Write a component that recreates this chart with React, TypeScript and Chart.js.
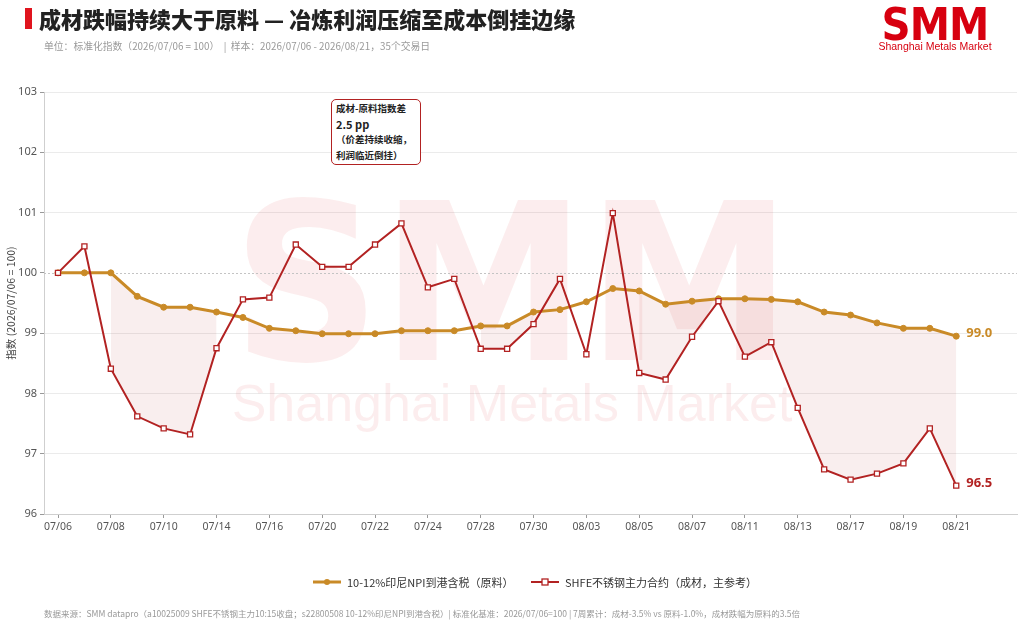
import React, { useEffect, useRef } from "react";
import { Chart, registerables } from "chart.js";

Chart.register(...registerables);

// ---------------- data ----------------
const dateLabels = [
  "07/06", "07/07", "07/08", "07/09", "07/10",
  "07/13", "07/14", "07/15", "07/16", "07/17",
  "07/20", "07/21", "07/22", "07/23", "07/24",
  "07/27", "07/28", "07/29", "07/30", "07/31",
  "08/03", "08/04", "08/05", "08/06", "08/07",
  "08/10", "08/11", "08/12", "08/13", "08/14",
  "08/17", "08/18", "08/19", "08/20", "08/21",
];

// 10-12% Indonesian NPI landed incl. tax (raw material), index
const rawMaterialIndex = [
  100, 100, 100, 99.61, 99.43,
  99.43, 99.35, 99.26, 99.08, 99.04,
  98.99, 98.99, 98.99, 99.04, 99.04,
  99.04, 99.12, 99.12, 99.35, 99.39,
  99.52, 99.74, 99.7, 99.48, 99.53,
  99.57, 99.57, 99.56, 99.52, 99.35,
  99.3, 99.17, 99.08, 99.08, 98.95,
];

// SHFE stainless steel main contract (finished product), index
const finishedIndex = [
  100, 100.44, 98.41, 97.62, 97.42,
  97.32, 98.75, 99.56, 99.59, 100.47,
  100.1, 100.1, 100.47, 100.82, 99.76,
  99.9, 98.74, 98.74, 99.15, 99.9,
  98.65, 100.99, 98.34, 98.23, 98.94,
  99.53, 98.61, 98.85, 97.76, 96.74,
  96.57, 96.67, 96.84, 97.42, 96.47,
];

const seriesNames = [
  "10-12%印尼NPI到港含税（原料）",
  "SHFE不锈钢主力合约（成材，主参考）",
];

const yMin = 96;
const yMax = 103;
const baseValue = 100;

const titleText = "成材跌幅持续大于原料 — 冶炼利润压缩至成本倒挂边缘";
const subtitleText =
  "单位：标准化指数（2026/07/06 = 100）  |  样本：2026/07/06 - 2026/08/21，35个交易日";
const yAxisTitle = "指数 (2026/07/06 = 100)";
const noteLines = ["成材-原料指数差", "2.5 pp", "（价差持续收缩，", "利润临近倒挂）"];
const footerText =
  "数据来源：SMM datapro（a10025009 SHFE不锈钢主力10:15收盘；s22800508 10-12%印尼NPI到港含税）| 标准化基准：2026/07/06=100 | 7周累计：成材-3.5% vs 原料-1.0%，成材跌幅为原料的3.5倍";

// ---------------- styles ----------------
const ORANGE = "#C98A27";
const RED = "#B22222";
const LOGO_RED = "#D7000F";
const FILL = "rgba(178,34,34,0.08)";
const FONT = '"Noto Sans", "Noto Sans CJK SC", sans-serif';
const CJK = '"Noto Sans CJK SC", "Noto Sans", sans-serif';

const watermarkPlugin = {
  id: "smmWatermark",
  beforeDatasetsDraw(chart: any) {
    const ctx = chart.ctx;
    const cx = chart.width / 2;
    ctx.save();
    ctx.fillStyle = "rgba(215,0,15,0.07)";
    ctx.font = 'bold 100px "DejaVu Sans", "Liberation Sans", sans-serif';
    const m = ctx.measureText("SMM");
    const w = m.width;
    const a = m.actualBoundingBoxAscent || 72;
    const targetW = 560;
    const targetH = 165;
    ctx.translate(cx - targetW / 2, 360);
    ctx.scale(targetW / w, targetH / a);
    ctx.textBaseline = "alphabetic";
    ctx.textAlign = "left";
    ctx.fillText("SMM", 0, 0);
    ctx.restore();

    ctx.save();
    ctx.fillStyle = "rgba(215,0,15,0.07)";
    ctx.font = '52px "Liberation Sans", Arial, sans-serif';
    ctx.textAlign = "center";
    ctx.textBaseline = "alphabetic";
    ctx.fillText("Shanghai Metals Market", cx, 421);
    ctx.restore();

    // dotted base line at 100
    const y = chart.scales.y.getPixelForValue(baseValue);
    const area = chart.chartArea;
    ctx.save();
    ctx.strokeStyle = "#c4c4c4";
    ctx.lineWidth = 1;
    ctx.setLineDash([2, 2]);
    ctx.beginPath();
    ctx.moveTo(area.left, Math.round(y) + 0.5);
    ctx.lineTo(area.right, Math.round(y) + 0.5);
    ctx.stroke();
    ctx.restore();
  },
};

const endLabelPlugin = {
  id: "endLabels",
  afterDatasetsDraw(chart: any) {
    const ctx = chart.ctx;
    const colors = [ORANGE, RED];
    [0, 1].forEach((di) => {
      const meta = chart.getDatasetMeta(di);
      const pts = meta.data;
      const last = pts[pts.length - 1];
      const values = chart.data.datasets[di].data;
      const v = values[values.length - 1].y;
      const txt = (Math.round(v * 10) / 10).toFixed(1);
      ctx.save();
      ctx.fillStyle = colors[di];
      ctx.font = `bold 13px ${FONT}`;
      ctx.textBaseline = "middle";
      ctx.textAlign = "left";
      ctx.fillText(txt, last.x + 10, last.y - (di === 0 ? 3 : 2));
      ctx.restore();
    });
  },
};

function ChartCanvas() {
  const ref = useRef<HTMLCanvasElement | null>(null);
  useEffect(() => {
    if (!ref.current) return;
    const mask = finishedIndex.map((v, i) => v < rawMaterialIndex[i]);
    const chart = new Chart(ref.current, {
      type: "line",
      data: {
        datasets: [
          {
            label: seriesNames[0],
            data: rawMaterialIndex.map((v, i) => ({ x: i, y: v })),
            borderColor: ORANGE,
            backgroundColor: ORANGE,
            borderWidth: 3,
            pointRadius: 3,
            pointBackgroundColor: ORANGE,
            pointBorderColor: ORANGE,
            pointBorderWidth: 1,
            tension: 0,
            fill: false,
            order: 1,
          },
          {
            label: seriesNames[1],
            data: finishedIndex.map((v, i) => ({ x: i, y: v })),
            borderColor: RED,
            backgroundColor: "#fff",
            borderWidth: 2,
            pointStyle: "rect",
            pointRadius: 3.6,
            pointBackgroundColor: "#fff",
            pointBorderColor: RED,
            pointBorderWidth: 1.3,
            tension: 0,
            fill: false,
            order: 0,
          },
          {
            label: "upper",
            data: rawMaterialIndex.map((v, i) => ({ x: i, y: mask[i] ? v : null })),
            borderWidth: 0,
            borderColor: "rgba(0,0,0,0)",
            pointRadius: 0,
            fill: false,
            spanGaps: false,
            order: 2,
          },
          {
            label: "lower",
            data: finishedIndex.map((v, i) => ({ x: i, y: mask[i] ? v : null })),
            borderWidth: 0,
            borderColor: "rgba(0,0,0,0)",
            pointRadius: 0,
            fill: { target: 2, above: FILL, below: FILL },
            spanGaps: false,
            order: 3,
          },
        ],
      } as any,
      options: {
        animation: false,
        responsive: false,
        maintainAspectRatio: false,
        layout: { padding: { left: 0, top: 92, right: 7, bottom: 83 } },
        plugins: {
          legend: { display: false },
          tooltip: { enabled: false },
        },
        scales: {
          x: {
            type: "linear",
            min: -0.53,
            max: 36.3,
            afterBuildTicks: (s: any) => {
              s.ticks = dateLabels
                .map((_, i) => i)
                .filter((i) => i % 2 === 0)
                .map((v) => ({ value: v }));
            },
            afterFit: (s: any) => {
              s.height = 30;
            },
            ticks: {
              autoSkip: false,
              maxRotation: 0,
              color: "#555",
              padding: 3,
              font: { size: 10.5, family: FONT },
              callback: (v: any) => dateLabels[Number(v)] ?? "",
            },
            grid: {
              drawOnChartArea: false,
              drawTicks: true,
              tickLength: 4,
              tickColor: "#999",
            },
            border: { color: "#cfcfcf", width: 1 },
          },
          y: {
            min: yMin,
            max: yMax,
            afterFit: (s: any) => {
              s.width = 44;
            },
            ticks: {
              stepSize: 1,
              color: "#555",
              padding: 3,
              font: { size: 11, family: FONT },
            },
            grid: {
              color: (c: any) =>
                c.tick && c.tick.value === baseValue ? "rgba(0,0,0,0)" : "#ebebeb",
              tickColor: "#999",
              tickLength: 4,
            },
            border: { color: "#cfcfcf", width: 1 },
            title: {
              display: true,
              text: yAxisTitle,
              color: "#444",
              font: { size: 10.5, family: CJK },
              padding: { top: 5, bottom: 0 },
            },
          },
        },
      } as any,
      plugins: [watermarkPlugin, endLabelPlugin],
    });
    return () => chart.destroy();
  }, []);
  return (
    <canvas
      ref={ref}
      width={1024}
      height={627}
      style={{ position: "absolute", left: 0, top: 0, width: 1024, height: 627 }}
    />
  );
}

function LegendItem({ kind, label, left }: { kind: "circle" | "square"; label: string; left: number }) {
  const color = kind === "circle" ? ORANGE : RED;
  return (
    <div
      style={{
        position: "absolute",
        left,
        top: 575,
        height: 14,
        display: "flex",
        alignItems: "center",
        whiteSpace: "nowrap",
      }}
    >
      <svg width={28} height={10} style={{ marginRight: 6 }}>
        <line x1={0} y1={5} x2={28} y2={5} stroke={color} strokeWidth={kind === "circle" ? 3 : 2} />
        {kind === "circle" ? (
          <circle cx={14} cy={5} r={3} fill={color} />
        ) : (
          <rect x={11} y={2} width={6} height={6} fill="#fff" stroke={color} strokeWidth={1.3} />
        )}
      </svg>
      <span style={{ fontFamily: CJK, fontSize: 11, color: "#333" }}>{label}</span>
    </div>
  );
}

export default function App() {
  return (
    <div
      style={{
        position: "fixed",
        left: 0,
        top: 0,
        width: 1024,
        height: 627,
        background: "#fff",
        overflow: "hidden",
        fontFamily: CJK,
      }}
    >
      <ChartCanvas />
      {/* title */}
      <div style={{ position: "absolute", left: 25, top: 8, width: 7, height: 21, background: "#E0141E" }} />
      <div
        style={{
          position: "absolute",
          left: 39,
          top: 5,
          fontSize: 22,
          lineHeight: "26px",
          fontWeight: 900,
          color: "#222",
          whiteSpace: "nowrap",
          fontFamily: CJK,
        }}
      >
        {titleText}
      </div>
      <div
        style={{
          position: "absolute",
          left: 44,
          top: 39,
          fontSize: 9.8,
          lineHeight: "14px",
          color: "#999",
          whiteSpace: "pre",
          fontFamily: CJK,
        }}
      >
        {subtitleText}
      </div>
      {/* logo */}
      <div
        style={{
          position: "absolute",
          left: 876,
          top: 3,
          width: 118,
          textAlign: "center",
          fontFamily: '"DejaVu Sans", "Liberation Sans", sans-serif',
          fontWeight: 700,
          fontSize: 44,
          lineHeight: "44px",
          color: LOGO_RED,
          transform: "scaleX(0.92)",
          transformOrigin: "center",
          letterSpacing: -1,
        }}
      >
        SMM
      </div>
      <div
        style={{
          position: "absolute",
          left: 870,
          top: 40,
          width: 130,
          textAlign: "center",
          fontFamily: '"Liberation Sans", Arial, sans-serif',
          fontSize: 10.5,
          lineHeight: "13px",
          color: LOGO_RED,
          whiteSpace: "nowrap",
        }}
      >
        Shanghai Metals Market
      </div>
      {/* annotation */}
      <div
        style={{
          position: "absolute",
          left: 331,
          top: 99,
          width: 90,
          height: 66,
          boxSizing: "border-box",
          border: `1px solid ${RED}`,
          borderRadius: 5,
          background: "#fff",
          padding: "1px 4px",
          fontFamily: CJK,
          fontWeight: 700,
          color: "#222",
        }}
      >
        {noteLines.map((l, i) => (
          <div
            key={i}
            style={{ fontSize: i === 1 ? 11 : 9.5, lineHeight: "15.5px", whiteSpace: "nowrap" }}
          >
            {l}
          </div>
        ))}
      </div>
      {/* legend */}
      <LegendItem kind="circle" label={seriesNames[0]} left={313} />
      <LegendItem kind="square" label={seriesNames[1]} left={531} />
      {/* footer */}
      <div
        style={{
          position: "absolute",
          left: 44,
          top: 607,
          fontSize: 8.5,
          lineHeight: "12px",
          color: "#999",
          whiteSpace: "nowrap",
          fontFamily: CJK,
        }}
      >
        {footerText}
      </div>
    </div>
  );
}
